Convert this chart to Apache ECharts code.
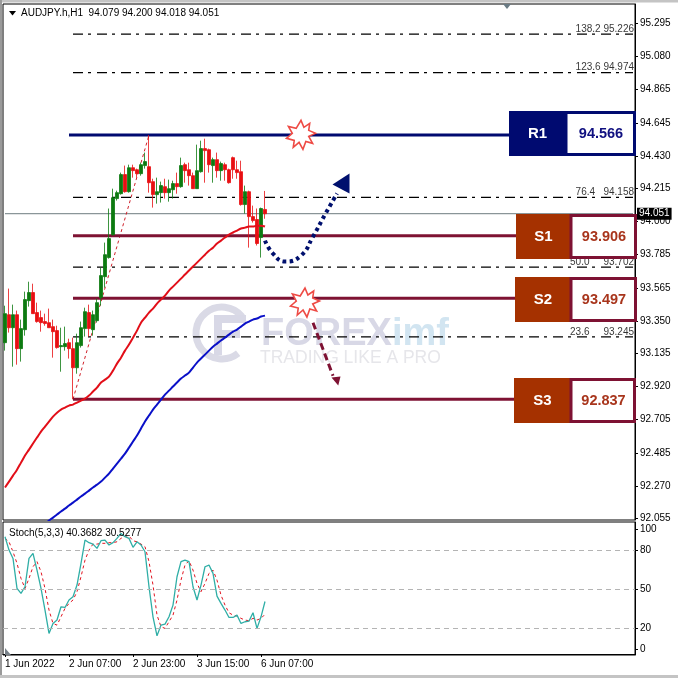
<!DOCTYPE html>
<html><head><meta charset="utf-8">
<style>html,body{margin:0;padding:0;background:#fff}#c{width:678px;height:678px}</style>
<script src="https://cdn.jsdelivr.net/npm/echarts@6/dist/echarts.min.js"></script>
</head><body><div id="c"></div>
<script>
// [open, close, low, high]
const candles = [
[93.207,93.397,93.155,93.449],[93.390,93.305,93.273,93.561],[93.305,93.390,93.050,93.456],[93.390,93.168,93.063,93.417],
[93.168,93.299,93.083,93.358],[93.292,93.489,93.253,93.541],[93.482,93.535,93.443,93.606],[93.535,93.397,93.397,93.593],
[93.404,93.345,93.338,93.469],[93.371,93.338,93.279,93.417],[93.345,93.332,93.318,93.397],[93.338,93.305,93.305,93.430],
[93.312,93.279,93.109,93.358],[93.286,93.175,93.168,93.318],[93.181,93.188,93.017,93.305],[93.181,93.201,93.155,93.312],
[93.207,93.168,93.103,93.233],[93.168,93.043,92.837,93.240],[93.043,93.207,93.004,93.266],[93.188,93.305,93.175,93.345],
[93.299,93.410,93.247,93.436],[93.404,93.299,93.247,93.456],[93.292,93.390,93.253,93.417],[93.351,93.469,93.338,93.495],
[93.502,93.646,93.449,93.698],[93.639,93.783,93.567,93.862],[93.764,93.888,93.757,94.085],[93.914,94.156,93.908,94.215],
[94.150,94.189,94.137,94.202],[94.182,94.307,94.176,94.320],[94.307,94.195,94.189,94.366],[94.195,94.352,94.189,94.372],
[94.352,94.333,94.287,94.372],[94.339,94.313,94.287,94.346],[94.313,94.372,94.300,94.385],[94.366,94.392,94.346,94.451],
[94.359,94.254,94.189,94.566],[94.261,94.176,94.091,94.280],[94.176,94.195,94.117,94.287],[94.189,94.235,94.124,94.261],
[94.228,94.189,94.150,94.280],[94.189,94.215,94.130,94.274],[94.208,94.248,94.150,94.267],[94.248,94.228,94.182,94.320],
[94.228,94.366,94.221,94.418],[94.372,94.333,94.254,94.385],[94.339,94.300,94.235,94.385],[94.300,94.215,94.215,94.320],
[94.215,94.333,94.215,94.503],[94.326,94.477,94.320,94.529],[94.477,94.464,94.254,94.542],[94.470,94.372,94.320,94.477],
[94.366,94.405,94.254,94.418],[94.405,94.333,94.287,94.451],[94.333,94.379,94.267,94.392],[94.372,94.339,94.267,94.385],
[94.339,94.254,94.248,94.346],[94.418,94.339,94.280,94.425],[94.339,94.320,94.280,94.398],[94.326,94.111,94.104,94.398],
[94.111,94.195,94.052,94.235],[94.195,94.032,93.829,94.202],[94.032,94.006,93.993,94.104],[94.013,93.856,93.843,94.085],
[93.895,94.085,93.764,94.091],[94.079,94.051,94.018,94.200]];
const maRed = [92.259,92.298,92.337,92.376,92.422,92.468,92.507,92.547,92.586,92.625,92.658,92.691,92.723,92.749,92.769,92.782,92.795,92.802,92.815,92.828,92.841,92.861,92.887,92.913,92.946,92.965,92.985,93.024,93.070,93.109,93.155,93.195,93.240,93.286,93.338,93.371,93.404,93.430,93.463,93.489,93.515,93.548,93.574,93.600,93.626,93.653,93.679,93.705,93.731,93.757,93.783,93.809,93.829,93.856,93.875,93.895,93.914,93.928,93.941,93.954,93.960,93.967,93.967,93.973,93.973,93.967];
const maBlue = [null,null,null,null,null,null,null,null,null,null,92.016,92.043,92.062,92.082,92.102,92.121,92.141,92.160,92.180,92.200,92.219,92.239,92.259,92.278,92.298,92.324,92.350,92.383,92.416,92.448,92.481,92.520,92.560,92.599,92.645,92.691,92.730,92.769,92.802,92.835,92.867,92.893,92.920,92.946,92.972,92.992,93.011,93.044,93.077,93.103,93.129,93.155,93.181,93.201,93.221,93.240,93.260,93.279,93.293,93.312,93.332,93.345,93.358,93.365,93.378,93.384];
const stochMain = [90.2,79.9,73.5,50.4,46.6,51.7,73.5,77.4,64.5,50.4,33.8,15.8,23.5,26.1,36.3,35.8,41.5,44.0,53.0,69.7,87.6,85.6,84.5,81.2,87.1,87.6,83.8,85.6,88.9,92.7,90.2,88.9,82.0,86.3,83.8,78.6,51.7,28.6,14.0,22.2,23.0,28.6,37.6,59.4,71.0,72.2,71.0,51.7,41.5,53.0,67.1,68.4,62.0,44.5,38.9,33.8,28.1,28.1,29.9,23.5,24.8,25.3,31.7,19.7,28.6,40.37];
const stochSignal = [88.9,86.3,78.6,69.7,58.1,50.4,58.1,67.1,71.0,63.3,50.4,33.8,23.5,22.2,28.6,35.1,38.9,41.5,47.9,59.4,72.2,79.9,84.5,84.5,85.1,85.1,85.6,85.6,86.3,88.9,90.7,90.7,87.1,86.3,84.5,82.5,71.0,53.0,29.9,21.0,19.7,24.8,29.9,41.5,56.8,68.4,71.7,64.5,54.3,47.9,54.3,62.0,64.5,56.8,45.3,37.6,31.7,29.9,29.2,27.4,26.1,25.6,27.4,26.1,27.4,30.53];

const priceTicks = [95.295,95.080,94.865,94.645,94.430,94.215,94.000,93.785,93.565,93.350,93.135,92.920,92.705,92.485,92.270,92.055];
const stochTickAt = [96,80,50,20,4];
const stochTickText = ['100','80','50','20','0'];
const timeLabels = ['1 Jun 2022','2 Jun 07:00','2 Jun 23:00','3 Jun 15:00','6 Jun 07:00'];
const fibLevels = [95.226,94.974,94.158,93.702,93.245];
const fibTexts = ['138.2 95.226','123.6 94.974','76.4   94.158','50.0     93.702','23.6     93.245'];
const srValues = [94.566,93.906,93.497,92.837];
const srNames = ['R1','S1','S2','S3'];
const lastPrice = 94.051;
const swing = [[17,92.837],[36,94.566]];
const bluePath = [[65,93.875],[67,93.790],[70,93.738],[74,93.777],[77,93.901],[80,94.045],[83,94.183]];
const redPath = [[77,93.338],[82,92.990]];
const blueHead = [84,94.248];
const redHead = [83,92.956];
const stars = [[74,94.567],[75,93.470]];

const categories = Array.from({length:158},(_,i)=> i%16===0 && timeLabels[i/16] ? timeLabels[i/16] : '');
const FONT = 'Liberation Sans';
const NAVY='#000A70', MAROON='#7E1233', BROWN='#A53100', TXT='#000';
const LEFT=3, W=632;

const seg = (a,b,color,width,type,z)=>({type:'line',data:[a,b],showSymbol:false,silent:true,z:z||3,
  lineStyle:{color,width,type}, animation:false});

const series = [
  {type:'candlestick',data:candles,barWidth:3,z:4,
   itemStyle:{color:'#0C7A10',color0:'#E80F12',borderColor:'#0C7A10',borderColor0:'#E80F12',borderWidth:0.8}},
  {type:'line',data:maRed,showSymbol:false,smooth:0.3,lineStyle:{color:'#E20E18',width:2},z:5},
  {type:'line',data:maBlue,showSymbol:false,smooth:0.3,lineStyle:{color:'#0A10C8',width:2},z:5},
  seg(swing[0],swing[1],'#D0202A',1,[3,3],3),
  {type:'line',data:[[0,lastPrice],[157,lastPrice]],showSymbol:false,z:2,
   lineStyle:{color:'#6E7C80',width:1},
   endLabel:{show:true,formatter:()=>lastPrice.toFixed(3),color:'#fff',backgroundColor:'#000',
     fontFamily:FONT,fontSize:10,padding:[1,2,1,2],distance:4}},
  ...fibLevels.map(v=>seg([17,v],[157,v],'#000',1.3,[10,5,3,6],3)),
  {type:'scatter',data:fibLevels.map((v,i)=>({value:[157,v],
      label:{formatter:fibTexts[i]}})),symbolSize:0,z:6,silent:true,
   label:{show:true,position:'left',distance:0,offset:[1,-5],color:TXT,fontFamily:FONT,fontSize:10}},
  seg([16,srValues[0]],[128,srValues[0]],NAVY,3,'solid',4),
  ...srValues.slice(1).map(v=>seg([17,v],[128,v],MAROON,3,'solid',4)),
  {type:'line',data:bluePath,showSymbol:false,smooth:0.5,z:7,lineStyle:{color:'#00106E',width:4,type:[3.5,3.5]}},
  {type:'line',data:redPath,showSymbol:false,z:7,lineStyle:{color:MAROON,width:3,type:[7,4]}},
  {type:'scatter',data:[blueHead],symbol:'path://M17 0L0 11L17 20Z',symbolSize:[17,20],symbolKeepAspect:false,z:8,
   itemStyle:{color:'#00106E',opacity:1}},
  {type:'scatter',data:[redHead],symbol:'path://M0 1L8 0L6 9Z',symbolSize:[9,9],symbolOffset:[-1,0],z:8,
   itemStyle:{color:MAROON,opacity:1}},
  {type:'scatter',data:stars,symbol:'path://M15 0L18 7L24 3L23 10L30 13L23 16L27 23L20 21L17 29L13 22L7 27L8 20L0 18L6 13L2 6L10 8Z',
   symbolSize:29,z:9,itemStyle:{color:'#fff',borderColor:'#EE4B45',borderWidth:1.6,opacity:1}},
  {type:'line',xAxisIndex:1,yAxisIndex:1,data:stochSignal,showSymbol:false,z:3,lineStyle:{color:'#E21420',width:1,type:[3,3]},
   markLine:{silent:true,symbol:'none',label:{show:false},animation:false,
     lineStyle:{color:'#B4B4B4',width:1,type:[5,4]},data:[{yAxis:80},{yAxis:50},{yAxis:20}]}},
  {type:'line',xAxisIndex:1,yAxisIndex:1,data:stochMain,showSymbol:false,z:4,lineStyle:{color:'#2FAEA6',width:1.3}}
];

const boxes = [
  {x:509,y:111,w:127,div:566,fill:NAVY,border:NAVY,val:'#101080'},
  {x:516,y:214,w:121,div:571,fill:BROWN,border:MAROON,val:'#A8351C'},
  {x:515,y:277,w:122,div:571,fill:BROWN,border:MAROON,val:'#A8351C'},
  {x:514,y:378,w:122,div:571,fill:BROWN,border:MAROON,val:'#A8351C'}
];
const graphics = [];
boxes.forEach((b,i)=>{
  graphics.push({type:'rect',z:100,shape:{x:b.x,y:b.y,width:b.div-b.x,height:45},style:{fill:b.fill}});
  graphics.push({type:'rect',z:100,shape:{x:b.div,y:b.y+1.5,width:b.x+b.w-b.div-1.5,height:42},style:{fill:'#fff',stroke:b.border,lineWidth:3}});
  graphics.push({type:'text',z:101,style:{x:(b.x+b.div)/2,y:b.y+22.5,text:srNames[i],fill:'#fff',font:'bold 15px '+FONT,align:'center',verticalAlign:'middle'}});
  graphics.push({type:'text',z:101,style:{x:(b.div+b.x+b.w)/2,y:b.y+22.5,text:srValues[i].toFixed(3),fill:b.val,font:'bold 14.5px '+FONT,align:'center',verticalAlign:'middle'}});
});
// watermark
const WM='#D8D8E6';
graphics.push(
  {type:'arc',z:0,silent:true,shape:{cx:222,cy:333,r:26,startAngle:0.9,endAngle:5.6},style:{stroke:'#DADAE6',lineWidth:7,fill:'none'}},
  {type:'rect',z:0,silent:true,shape:{x:214,y:315,width:32,height:8},style:{fill:WM}},
  {type:'rect',z:0,silent:true,shape:{x:214,y:330,width:26,height:8},style:{fill:WM}},
  {type:'rect',z:0,silent:true,shape:{x:214,y:315,width:8,height:40},style:{fill:WM}},
  {type:'text',z:0,silent:true,style:{x:261,y:335,text:'FOREX',fill:WM,font:'bold 38px '+FONT,verticalAlign:'middle'}},
  {type:'text',z:0,silent:true,style:{x:392,y:335,text:'imf',fill:'#D2E5F1',font:'bold 38px '+FONT,verticalAlign:'middle'}},
  {type:'text',z:0,silent:true,style:{x:260,y:358,text:'TRADING LIKE A PRO',fill:'#E6E6EA',font:'17.5px '+FONT,verticalAlign:'middle'}}
);
// window chrome and captions
graphics.push(
  {type:'rect',z:90,shape:{x:0,y:0,width:678,height:2.5},style:{fill:'#C4C4C4'}},
  {type:'rect',z:90,shape:{x:0,y:0,width:2,height:678},style:{fill:'#9A9A9A'}},
  {type:'rect',z:90,shape:{x:0,y:675,width:678,height:3},style:{fill:'#C4C4C4'}},
  {type:'polygon',z:90,shape:{points:[[9,11],[16,11],[12.5,15.5]]},style:{fill:'#000'}},
  {type:'polygon',z:90,shape:{points:[[503,4],[511,4],[507,9]]},style:{fill:'#6A7B84'}},
  {type:'polygon',z:90,shape:{points:[[5,648],[5,655],[11,655]]},style:{fill:'#778088'}},
  {type:'text',z:90,style:{x:21,y:13,text:'AUDJPY.h,H1  94.079 94.200 94.018 94.051',fill:TXT,font:'10px '+FONT,verticalAlign:'middle'}},
  {type:'text',z:90,style:{x:9,y:533,text:'Stoch(5,3,3) 40.3682 30.5277',fill:TXT,font:'10px '+FONT,verticalAlign:'middle'}}
);

const chart = echarts.init(document.getElementById('c'),null,{renderer:'canvas'});
chart.setOption({
  animation:false,
  backgroundColor:'#fff',
  grid:[
    {left:LEFT,top:4,width:W,height:516,show:true,borderColor:'#000',borderWidth:1,backgroundColor:'transparent'},
    {left:LEFT,top:522,width:W,height:133,show:true,borderColor:'#000',borderWidth:1,backgroundColor:'transparent'}
  ],
  xAxis:[
    {type:'category',gridIndex:0,data:categories,axisLine:{show:false},axisTick:{show:false},axisLabel:{show:false},splitLine:{show:false}},
    {type:'category',gridIndex:1,data:categories,axisLine:{show:true,lineStyle:{color:'#000'}},
     axisTick:{show:true,interval:(i)=>i%16===0&&i<=64,alignWithLabel:true,length:3,lineStyle:{color:'#000'}},
     axisLabel:{show:true,interval:15,align:'left',color:TXT,fontFamily:FONT,fontSize:10,margin:4,hideOverlap:false},splitLine:{show:false}}
  ],
  yAxis:[
    {type:'value',gridIndex:0,position:'right',min:92.0465,max:95.4235,
     axisLine:{show:true,lineStyle:{color:'#000'}},
     axisTick:{show:true,length:3,customValues:priceTicks,lineStyle:{color:'#000'}},
     axisLabel:{show:true,customValues:priceTicks,formatter:v=>v.toFixed(3),color:TXT,fontFamily:FONT,fontSize:10,margin:5,padding:[2,0,0,0]},
     splitLine:{show:false}},
    {type:'value',gridIndex:1,position:'right',min:-0.77,max:101.5,
     axisLine:{show:true,lineStyle:{color:'#000'}},
     axisTick:{show:true,length:3,customValues:stochTickAt,lineStyle:{color:'#000'}},
     axisLabel:{show:true,customValues:stochTickAt,formatter:v=>stochTickText[stochTickAt.indexOf(v)],color:TXT,fontFamily:FONT,fontSize:10,margin:5,padding:[1,0,0,0]},
     splitLine:{show:false}}
  ],
  series,
  graphic:{elements:graphics}
});
</script></body></html>
